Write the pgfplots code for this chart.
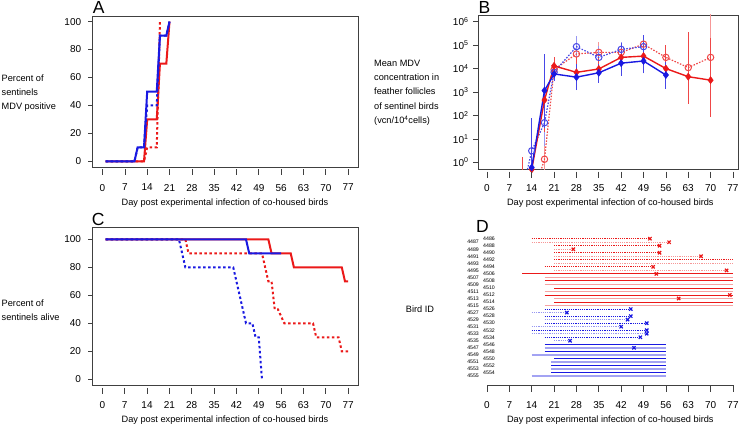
\documentclass[border=0pt]{standalone}
\usepackage{fontspec}
\setmainfont{Liberation Sans}
\usepackage{pgfplots}
\pgfplotsset{compat=1.18}

\definecolor{rr}{RGB}{235,25,25}
\definecolor{bb}{RGB}{25,25,225}
\newcommand{\lf}{\fontsize{9.2}{11}\selectfont}
\tikzset{tk/.style={black!75, line width=0.7pt},
  dlab/.style={anchor=east, inner sep=0, font=\fontsize{5.2}{6}\selectfont}}
% bird id label at row #1, column position #2 (day units)
\newcommand{\dl}[3]{\node[dlab] at (axis cs:#2,-#1) {#3};}

\pgfplotsset{
  panel/.style={scale only axis, anchor=north west, clip mode=individual,
    axis line style={black!75, line width=0.7pt},
    major tick length=0pt, tick style={draw=none},
    ticklabel style={font=\fontsize{10}{12}\selectfont},
    /pgf/number format/assume math mode=true,
    xtick={0,7,...,77}},
  % panels A and C
  rs/.style={rr, line width=2pt},
  rd/.style={rr, line width=2pt, dash pattern=on 2.5pt off 2.5pt},
  bs/.style={bb, line width=2pt},
  bd/.style={bb, line width=2pt, dash pattern=on 2.5pt off 2.5pt},
  % panel B
  err/.style={line width=1pt, unbounded coords=jump},
  % panel D
  rdA/.style={rr, line width=1pt, dash pattern=on 1.2pt off 1pt},
  rdB/.style={rr!45, line width=1.4pt, dash pattern=on 1.2pt off 1pt},
  rsA/.style={rr, line width=0.9pt},
  rsB/.style={rr!40, line width=1.6pt},
  bdA/.style={bb, line width=1pt, dash pattern=on 1.2pt off 1pt},
  bdB/.style={bb!45, line width=1.4pt, dash pattern=on 1.2pt off 1pt},
  bsA/.style={bb, line width=0.9pt},
  bsB/.style={bb!40, line width=1.6pt},
  xm/.style={only marks, mark=x, mark size=2.3pt, mark options={line width=1.2pt}},
}

\begin{document}
\begin{tikzpicture}
\useasboundingbox (0,0) rectangle (744pt,-425pt);

% ---------- A ----------
\begin{axis}[panel, at={(92.7pt,-16pt)}, width=265.3pt, height=151pt,
  xmin=-3.08, xmax=80.08, ymin=-4, ymax=104, ytick={0,20,...,100},
  xticklabel style={yshift=-13.5pt}, yticklabel style={xshift=-8pt}]
\addplot[rd] coordinates {(1,0)(13,0)(14,10)(17,10)(18,100)};
\addplot[rs] coordinates {(1,0)(13,0)(14,30)(17,30)(18,70)(20,70)(21,100)};
\addplot[bd] coordinates {(1,0)(10,0)(11,10)(13,10)(14,40)(17,40)(18,90)(20,90)(21,100)};
\addplot[bs] coordinates {(1,0)(10,0)(11,10)(13,10)(14,50)(17,50)(18,90)(20,90)(21,100)};
\pgfplotsinvokeforeach{0,7,...,77}{\draw[tk] ([yshift=-2pt]axis cs:#1,-4) -- ([yshift=-8pt]axis cs:#1,-4);}
\pgfplotsinvokeforeach{0,20,...,100}{\draw[tk] (axis cs:-3.08,#1) -- ([xshift=-5pt]axis cs:-3.08,#1);}
\end{axis}

% ---------- B ----------
\begin{axis}[panel, ymode=log, at={(478pt,-15pt)}, width=260.7pt, height=154.5pt,
  xmin=-2.82, xmax=78.8, ymin=0.493, ymax=1.93e6,
  ytick={1,10,100,1000,10000,100000,1000000},
  yticklabels={10\textsuperscript{0},10\textsuperscript{1},10\textsuperscript{2},10\textsuperscript{3},10\textsuperscript{4},10\textsuperscript{5},10\textsuperscript{6}},
  xticklabel style={yshift=-11.9pt}, yticklabel style={xshift=-6pt}]
% error bars
\addplot[err, rr!45] coordinates {(18,0.01)(18,10)(18,nan)(28,10000)(28,140000)(28,nan)
  (35,2750)(35,140000)(35,nan)(42,15000)(42,130000)(42,nan)(49,30000)(49,250000)(49,nan)
  (56,3000)(56,100000)(56,nan)(63,2000)(63,60000)(63,nan)(70,3000)(70,5e6)};
\addplot[err, bb!45] coordinates {(14,0.01)(14,20)(14,nan)(18,5)(18,500)(18,nan)
  (28,20000)(28,240000)(28,nan)(35,10000)(35,90000)(35,nan)(42,20000)(42,130000)(42,nan)
  (49,30000)(49,270000)};
\addplot[err, rr!80] coordinates {(11,0.001)(11,1.7)(11,nan)(14,0.01)(14,30)(14,nan)
  (18,20)(18,12000)(18,nan)(21,6000)(21,30000)(21,nan)(28,1500)(28,30000)(28,nan)
  (35,3000)(35,30000)(35,nan)(42,8000)(42,120000)(42,nan)(49,10000)(49,110000)(49,nan)
  (56,2300)(56,100000)(56,nan)(63,310)(63,370000)(63,nan)(70,89)(70,200000)};
\addplot[err, bb!80] coordinates {(14,0.01)(14,75)(14,nan)(18,30)(18,42000)(18,nan)
  (21,3000)(21,10000)(21,nan)(28,1200)(28,15000)(28,nan)(35,2500)(35,15000)(35,nan)
  (42,5000)(42,120000)(42,nan)(49,6300)(49,270000)(49,nan)(56,1400)(56,20000)};
% means
\addplot[rr!80, line width=1.2pt, dash pattern=on 1.5pt off 1.5pt] coordinates
  {(14,0.025)(18,1.35)(21,9000)(28,42000)(35,49000)(42,49000)(49,110000)(56,30000)(63,11000)(70,30000)};
\addplot[bb!80, line width=1.2pt, dash pattern=on 1.5pt off 1.5pt] coordinates
  {(11,0.05)(14,3.1)(18,49)(21,7000)(28,86000)(35,30000)(42,66000)(49,86000)};
\addplot[rr, line width=1.4pt] coordinates
  {(11,0.001)(14,0.5)(18,455)(21,13000)(28,6900)(35,9600)(42,30000)(49,34000)(56,10000)(63,4500)(70,3200)};
\addplot[bb, line width=1.4pt] coordinates
  {(14,0.6)(18,1150)(21,5900)(28,4300)(35,6600)(42,17000)(49,21000)(56,5300)};
\addplot[only marks, mark=o, mark size=3.2pt, mark options={rr!80, line width=1pt}] coordinates
  {(18,1.35)(21,9000)(28,42000)(35,49000)(42,49000)(49,110000)(56,30000)(63,11000)(70,30000)};
\addplot[only marks, mark=o, mark size=3.2pt, mark options={bb!80, line width=1pt}] coordinates
  {(14,3.1)(18,49)(21,7000)(28,86000)(35,30000)(42,66000)(49,86000)};
\addplot[only marks, mark=diamond*, mark size=3.6pt, mark options={rr}] coordinates
  {(14,0.5)(18,455)(21,13000)(28,6900)(35,9600)(42,30000)(49,34000)(56,10000)(63,4500)(70,3200)};
\addplot[only marks, mark=diamond*, mark size=3.6pt, mark options={bb}] coordinates
  {(14,0.6)(18,1150)(21,5900)(28,4300)(35,6600)(42,17000)(49,21000)(56,5300)};
\pgfplotsinvokeforeach{0,7,...,77}{\draw[tk] ([yshift=-2pt]axis cs:#1,0.493) -- ([yshift=-8pt]axis cs:#1,0.493);}
\pgfplotsinvokeforeach{1,10,100,1000,10000,100000,1000000}{\draw[tk] (axis cs:-2.82,#1) -- ([xshift=-5pt]axis cs:-2.82,#1);}
\end{axis}

% ---------- C ----------
\begin{axis}[panel, at={(92.5pt,-227pt)}, width=265.5pt, height=157.9pt,
  xmin=-3.08, xmax=80.08, ymin=-4, ymax=108.8, ytick={0,20,...,100},
  xticklabel style={yshift=-13.1pt}, yticklabel style={xshift=-8pt}]
\addplot[rd] coordinates {(1,100)(26,100)(27,90)(50,90)(51,80)(52,70)(53,70)(54,50)(55,50)
  (57,40)(66,40)(67,30)(74,30)(75,20)(77,20)};
\addplot[rs] coordinates {(1,100)(52,100)(53,90)(59,90)(60,80)(75,80)(76,70)(77,70)};
\addplot[bd] coordinates {(1,100)(24,100)(25,90)(26,80)(41,80)(42,70)(43,60)(45,40)(47,40)
  (48,30)(49,30)(50,0)};
\addplot[bs] coordinates {(1,100)(45,100)(46,90)(56,90)};
\pgfplotsinvokeforeach{0,7,...,77}{\draw[tk] ([yshift=-3pt]axis cs:#1,-4) -- ([yshift=-9.5pt]axis cs:#1,-4);}
\pgfplotsinvokeforeach{0,20,...,100}{\draw[tk] (axis cs:-3.08,#1) -- ([xshift=-5pt]axis cs:-3.08,#1);}
\end{axis}

% ---------- D ----------
\begin{axis}[panel, at={(487pt,-232pt)}, width=246pt, height=153.3pt,
  xmin=0, xmax=77, ymin=-42.65, ymax=0.9, axis line style={draw=none},
  xticklabel style={yshift=-13.1pt}, ytick=\empty]
% red, dashed
\addplot[rdA] coordinates {(14,-1)(51,-1)};
\addplot[rdB] coordinates {(14,-2)(57,-2)};
\addplot[rdA] coordinates {(21,-3)(54,-3)};
\addplot[rdB] coordinates {(21,-4)(27,-4)};
\addplot[rdA] coordinates {(21,-5)(54,-5)};
\addplot[rdB] coordinates {(21,-6)(67,-6)};
\addplot[rdA] coordinates {(21,-7)(77,-7)};
\addplot[rdB] coordinates {(21,-8)(77,-8)};
\addplot[rdA] coordinates {(18,-9)(52,-9)};
\addplot[rdB] coordinates {(21,-10)(75,-10)};
% red, solid
\addplot[rsA] coordinates {(11,-11)(77,-11)};
\addplot[rsB] coordinates {(18,-12)(77,-12)};
\addplot[rsA] coordinates {(18,-13)(77,-13)};
\addplot[rsB] coordinates {(18,-14)(77,-14)};
\addplot[rsA] coordinates {(21,-15)(77,-15)};
\addplot[rsB] coordinates {(18,-16)(77,-16)};
\addplot[rsA] coordinates {(18,-17)(77,-17)};
\addplot[rsB] coordinates {(21,-18)(77,-18)};
\addplot[rsA] coordinates {(21,-19)(77,-19)};
\addplot[rsB] coordinates {(18,-20)(77,-20)};
% blue, dashed
\addplot[bdA] coordinates {(18,-21)(45,-21)};
\addplot[bdB] coordinates {(14,-22)(25,-22)};
\addplot[bdA] coordinates {(18,-23)(45,-23)};
\addplot[bdB] coordinates {(18,-24)(44,-24)};
\addplot[bdA] coordinates {(18,-25)(50,-25)};
\addplot[bdB] coordinates {(14,-26)(42,-26)};
\addplot[bdA] coordinates {(14,-27)(50,-27)};
\addplot[bdB] coordinates {(14,-28)(50,-28)};
\addplot[bdA] coordinates {(18,-29)(48,-29)};
\addplot[bdB] coordinates {(21,-30)(26,-30)};
% blue, solid
\addplot[bsA] coordinates {(18,-31)(56,-31)};
\addplot[bsB] coordinates {(18,-32)(56,-32)};
\addplot[bsA] coordinates {(18,-33)(56,-33)};
\addplot[bsB] coordinates {(14,-34)(56,-34)};
\addplot[bsA] coordinates {(21,-35)(56,-35)};
\addplot[bsB] coordinates {(20,-36)(56,-36)};
\addplot[bsA] coordinates {(20,-37)(56,-37)};
\addplot[bsB] coordinates {(20,-38)(56,-38)};
\addplot[bsA] coordinates {(20,-39)(56,-39)};
\addplot[bsB] coordinates {(14,-40)(56,-40)};
% deaths
\addplot[xm, rr] coordinates {(51,-1)(57,-2)(54,-3)(27,-4)(54,-5)(67,-6)(52,-9)(75,-10)
  (53,-11)(76,-17)(60,-18)};
\addplot[xm, bb] coordinates {(45,-21)(25,-22)(45,-23)(44,-24)(50,-25)(42,-26)(50,-27)
  (50,-28)(48,-29)(26,-30)(46,-32)};
% axis
\draw[tk] (axis cs:0,-42.65) -- (axis cs:77,-42.65);
\pgfplotsinvokeforeach{0,7,...,77}{\draw[tk] (axis cs:#1,-42.65) -- ([yshift=-6.5pt]axis cs:#1,-42.65);}
% bird ids: even ones in the right column, odd ones in the left
\dl{1}{2.5}{4486}\dl{2}{-2.5}{4487}\dl{3}{2.5}{4488}\dl{4}{-2.5}{4489}
\dl{5}{2.5}{4490}\dl{6}{-2.5}{4491}\dl{7}{2.5}{4492}\dl{8}{-2.5}{4493}
\dl{9}{2.5}{4494}\dl{10}{-2.5}{4495}\dl{11}{2.5}{4506}\dl{12}{-2.5}{4507}
\dl{13}{2.5}{4508}\dl{14}{-2.5}{4509}\dl{15}{2.5}{4510}\dl{16}{-2.5}{4511}
\dl{17}{2.5}{4512}\dl{18}{-2.5}{4513}\dl{19}{2.5}{4514}\dl{20}{-2.5}{4515}
\dl{21}{2.5}{4526}\dl{22}{-2.5}{4527}\dl{23}{2.5}{4528}\dl{24}{-2.5}{4529}
\dl{25}{2.5}{4530}\dl{26}{-2.5}{4531}\dl{27}{2.5}{4532}\dl{28}{-2.5}{4533}
\dl{29}{2.5}{4534}\dl{30}{-2.5}{4535}\dl{31}{2.5}{4546}\dl{32}{-2.5}{4547}
\dl{33}{2.5}{4548}\dl{34}{-2.5}{4549}\dl{35}{2.5}{4550}\dl{36}{-2.5}{4551}
\dl{37}{2.5}{4552}\dl{38}{-2.5}{4553}\dl{39}{2.5}{4554}\dl{40}{-2.5}{4555}
\end{axis}

% ---------- texts ----------
\begin{scope}[every node/.style={inner sep=0, font=\lf}]
\node[anchor=base west] at (1.5pt,-82pt) {Percent of};
\node[anchor=base west] at (1.5pt,-95.7pt) {sentinels};
\node[anchor=base west] at (1.5pt,-109.7pt) {MDV positive};
\node[anchor=base west] at (374pt,-66.5pt) {Mean MDV};
\node[anchor=base west] at (374pt,-80.5pt) {concentration in};
\node[anchor=base west] at (374pt,-95pt) {feather follicles};
\node[anchor=base west] at (374pt,-109.3pt) {of sentinel birds};
\node[anchor=base west] at (374pt,-124pt) {(vcn/10\textsuperscript{4}cells)};
\node[anchor=base west] at (1.5pt,-306pt) {Percent of};
\node[anchor=base west] at (1.5pt,-320pt) {sentinels alive};
\node[anchor=base] at (420pt,-312pt) {Bird ID};
\node[anchor=base] at (225pt,-205pt) {Day post experimental infection of co-housed birds};
\node[anchor=base] at (610.3pt,-205pt) {Day post experimental infection of co-housed birds};
\node[anchor=base] at (225pt,-422pt) {Day post experimental infection of co-housed birds};
\node[anchor=base] at (610.3pt,-422.5pt) {Day post experimental infection of co-housed birds};
\end{scope}
\begin{scope}[every node/.style={inner sep=0, anchor=base west, font=\fontsize{17.5}{20}\selectfont}]
\node at (92.7pt,-14pt) {A};
\node at (478.5pt,-14pt) {B};
\node at (91.7pt,-225.5pt) {C};
\node at (476pt,-232pt) {D};
\end{scope}
\end{tikzpicture}
\end{document}
